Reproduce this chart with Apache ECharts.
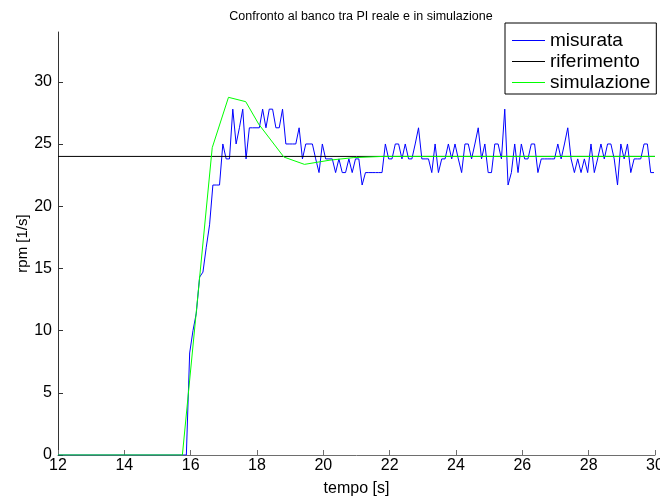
<!DOCTYPE html>
<html>
<head>
<meta charset="utf-8">
<script src="https://cdn.jsdelivr.net/npm/echarts@6/dist/echarts.min.js"></script>
<style>
  html, body { margin: 0; padding: 0; background: #fff; }
  #chart { width: 660px; height: 497px; }
</style>
</head>
<body>
<div id="chart"></div>
<script>
// Measured speed: one sample every 0.1 s, starting at t = 15.77 s (rest before that)
const measuredStart = 15.77;
const measuredStep = 0.1;
const measuredRpm = [
  0, 0, 8.2, 10.0, 11.4, 14.3, 14.7, 16.7, 18.5, 21.7,
  21.7, 21.7, 25.0, 23.8, 23.8, 27.8, 25.0, 26.3, 27.8, 23.8,
  26.3, 26.3, 26.3, 26.3, 27.8, 26.3, 27.8, 27.8, 26.3, 26.3,
  27.8, 25.0, 25.0, 25.0, 25.0, 26.3, 23.8, 25.0, 25.0, 25.0,
  23.8, 22.7, 25.0, 23.8, 23.8, 23.8, 22.7, 23.8, 22.7, 22.7,
  23.8, 22.7, 23.8, 23.8, 21.7, 22.7, 22.7, 22.7, 22.7, 22.7,
  22.7, 25.0, 23.8, 23.8, 25.0, 25.0, 23.8, 25.0, 23.8, 23.8,
  25.0, 26.3, 23.8, 23.8, 23.8, 22.7, 25.0, 22.7, 23.8, 23.8,
  25.0, 23.8, 25.0, 23.8, 22.7, 25.0, 25.0, 23.8, 25.0, 26.3,
  23.8, 25.0, 22.7, 22.7, 25.0, 25.0, 23.8, 27.8, 21.7, 22.7,
  25.0, 22.7, 25.0, 23.8, 23.8, 25.0, 25.0, 22.7, 23.8, 23.8,
  23.8, 23.8, 23.8, 25.0, 23.8, 25.0, 26.3, 23.8, 22.7, 23.8,
  22.7, 23.8, 22.7, 25.0, 22.7, 23.8, 25.0, 23.8, 25.0, 25.0,
  23.8, 21.7, 25.0, 23.8, 25.0, 22.7, 23.8, 23.8, 23.8, 25.0,
  25.0, 22.7, 22.7
];

// Speed reference (constant set-point)
const referenceTime = [12, 30];
const referenceRpm = [24, 24];

// Simulated closed-loop response
const simTime = [12, 15.75, 16.65, 17.14, 17.66, 18.05, 18.81, 19.43, 20.2, 20.9, 21.8, 30];
const simRpm  = [0, 0, 24.7, 28.75, 28.4, 26.6, 23.95, 23.36, 23.7, 23.9, 24.0, 24.0];

const xTicks = [12, 14, 16, 18, 20, 22, 24, 26, 28, 30];
const yTicks = [0, 5, 10, 15, 20, 25, 30];

const seriesNames = ['misurata', 'riferimento', 'simulazione'];
const seriesColors = ['#0000ff', '#000000', '#00ff00'];

const measuredData = [[12, 0]].concat(
  measuredRpm.map((v, i) => [+(measuredStart + i * measuredStep).toFixed(2), v])
);
const referenceData = referenceTime.map((t, i) => [t, referenceRpm[i]]);
const simData = simTime.map((t, i) => [t, simRpm[i]]);

const FONT = '"Liberation Sans", Arial, sans-serif';
const chart = echarts.init(document.getElementById('chart'), null, { renderer: 'canvas' });

function lineSeries(idx, data) {
  return {
    name: seriesNames[idx], type: 'line', data: data,
    symbol: 'none',
    lineStyle: { color: seriesColors[idx], width: 1 },
    itemStyle: { color: seriesColors[idx] }
  };
}

chart.setOption({
  animation: false,
  backgroundColor: '#fff',
  title: {
    text: 'Confronto al banco tra PI reale e in simulazione',
    left: 356, top: 5, textAlign: 'center',
    textStyle: { fontFamily: FONT, fontSize: 12.5, fontWeight: 'normal', color: '#000' }
  },
  legend: {
    orient: 'vertical',
    left: 505, top: 23,
    padding: [7, 6, 1, 7],
    itemWidth: 33, itemHeight: 1, itemGap: 0,
    backgroundColor: '#fff',
    borderColor: '#000', borderWidth: 1,
    textStyle: { fontFamily: FONT, fontSize: 19, color: '#000', lineHeight: 21 },
    data: seriesNames.map((n, i) => ({
      name: n, icon: 'rect',
      itemStyle: { color: seriesColors[i], borderWidth: 0, opacity: 1 }
    }))
  },
  grid: { left: 58, right: 5, top: 32, bottom: 42, outerBoundsMode: 'none' },
  xAxis: {
    type: 'value', min: 12, max: 30, interval: 2,
    name: 'tempo [s]', nameLocation: 'middle', nameGap: 26, nameMoveOverlap: false,
    nameTextStyle: { fontFamily: FONT, fontSize: 16, color: '#000' },
    axisLine: { lineStyle: { color: '#6e6e6e', width: 1 } },
    axisTick: { inside: true, length: 5, lineStyle: { color: '#6e6e6e' }, customValues: xTicks },
    axisLabel: { fontFamily: FONT, fontSize: 16, color: '#000', margin: 3, customValues: xTicks },
    splitLine: { show: false }
  },
  yAxis: {
    type: 'value', min: 0, max: 34, interval: 5,
    name: 'rpm [1/s]', nameLocation: 'middle', nameGap: 28, nameRotate: 90, nameMoveOverlap: false,
    nameTextStyle: { fontFamily: FONT, fontSize: 15, color: '#000' },
    axisLine: { show: true, lineStyle: { color: '#333', width: 1 } },
    axisTick: { show: true, inside: true, length: 5, lineStyle: { color: '#333' }, customValues: yTicks },
    axisLabel: { fontFamily: FONT, fontSize: 16, color: '#000', margin: 6, customValues: yTicks },
    splitLine: { show: false }
  },
  series: [
    lineSeries(0, measuredData),
    lineSeries(1, referenceData),
    lineSeries(2, simData)
  ]
});
</script>
</body>
</html>
